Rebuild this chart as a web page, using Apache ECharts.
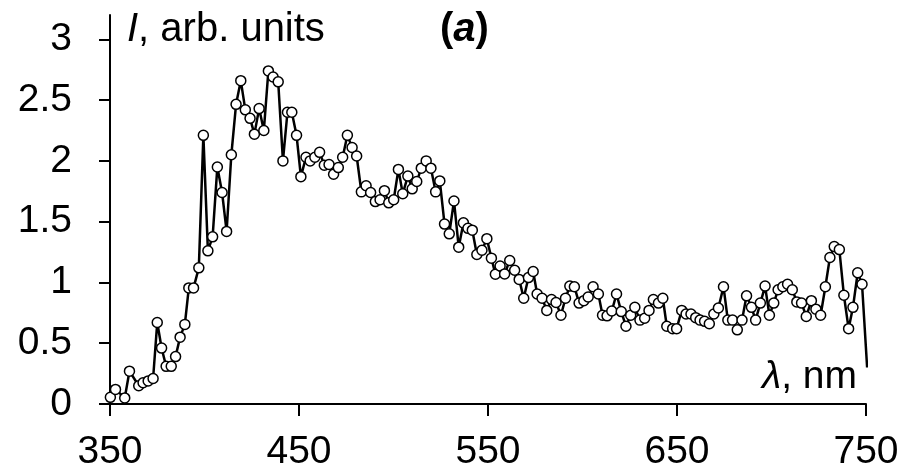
<!DOCTYPE html>
<html>
<head>
<meta charset="utf-8">
<script src="https://cdn.jsdelivr.net/npm/echarts@6/dist/echarts.min.js"></script>
<style>
  html, body { margin: 0; padding: 0; background: #fff; }
  #chart { width: 904px; height: 474px; }
</style>
</head>
<body>
<div id="chart"></div>
<script>
// wavelength, nm
const wavelength = [
  350.2, 352.9, 357.8, 360.3, 365.2, 367.5, 370.2, 372.8, 375.0, 377.3,
  379.7, 382.4, 384.7, 387.1, 389.6, 391.7, 394.2, 397.0, 399.4, 401.8,
  404.3, 406.8, 409.3, 411.7, 414.2, 416.7, 419.2, 421.6, 424.1, 426.4,
  428.9, 431.4, 433.8, 436.3, 439.0, 441.5, 443.9, 446.2, 448.7, 451.0,
  453.7, 455.9, 458.4, 460.9, 463.4, 465.9, 468.3, 470.8, 473.1, 475.6,
  478.1, 480.5, 483.0, 485.5, 487.9, 490.4, 492.9, 495.2, 497.5, 500.1,
  502.6, 504.9, 507.6, 509.9, 512.3, 514.7, 517.3, 519.8, 522.3, 524.5,
  527.0, 529.5, 532.0, 534.5, 537.0, 539.4, 541.7, 544.1, 546.8, 549.4,
  551.8, 553.9, 556.4, 558.8, 561.5, 564.1, 566.5, 568.9, 571.4, 573.9,
  576.0, 578.6, 581.1, 583.6, 586.0, 588.6, 591.0, 593.3, 595.7, 598.2,
  600.7, 603.0, 605.6, 608.4, 610.6, 613.0, 615.5, 618.0, 620.5, 623.0,
  625.5, 627.7, 630.4, 632.9, 635.2, 637.5, 640.2, 642.5, 644.6, 647.7,
  649.8, 652.5, 654.8, 657.4, 659.9, 662.2, 664.6, 667.1, 669.5, 671.9,
  674.6, 676.9, 679.4, 681.9, 684.4, 686.8, 689.4, 691.6, 694.1, 696.6,
  698.9, 701.2, 703.5, 706.0, 708.5, 711.0, 713.4, 715.9, 718.4, 721.1,
  723.5, 726.0, 728.5, 730.9, 733.2, 735.9, 738.3, 740.8, 743.1, 745.6,
  747.9, 750.6
]

// intensity, arb. units
const intensity = [
  0.055, 0.12, 0.05, 0.27, 0.15, 0.175, 0.19, 0.21, 0.67, 0.46,
  0.31, 0.31, 0.39, 0.55, 0.655, 0.955, 0.955, 1.12, 2.21, 1.26,
  1.375, 1.95, 1.74, 1.42, 2.05, 2.465, 2.66, 2.42, 2.35, 2.22,
  2.43, 2.25, 2.74, 2.69, 2.65, 2.0, 2.4, 2.4, 2.21, 1.87,
  2.03, 2.0, 2.03, 2.07, 1.965, 1.97, 1.89, 1.945, 2.03, 2.21,
  2.11, 2.04, 1.745, 1.795, 1.74, 1.665, 1.68, 1.755, 1.655, 1.68,
  1.93, 1.73, 1.875, 1.77, 1.83, 1.94, 2.0, 1.94, 1.745, 1.835,
  1.48, 1.4, 1.67, 1.29, 1.49, 1.445, 1.43, 1.23, 1.265, 1.36,
  1.2, 1.067, 1.135, 1.07, 1.18, 1.1, 1.025, 0.87, 1.04, 1.09,
  0.905, 0.87, 0.77, 0.86, 0.835, 0.73, 0.87, 0.97, 0.965, 0.83,
  0.85, 0.88, 0.965, 0.905, 0.73, 0.725, 0.765, 0.905, 0.76, 0.64,
  0.73, 0.795, 0.69, 0.705, 0.77, 0.86, 0.83, 0.87, 0.64, 0.62,
  0.62, 0.77, 0.74, 0.74, 0.71, 0.69, 0.68, 0.66, 0.74, 0.79,
  0.965, 0.69, 0.69, 0.61, 0.69, 0.89, 0.795, 0.69, 0.83, 0.97,
  0.73, 0.83, 0.94, 0.965, 0.985, 0.94, 0.84, 0.83, 0.72, 0.85,
  0.78, 0.73, 0.965, 1.205, 1.295, 1.27, 0.895, 0.62, 0.795, 1.08,
  0.985, 0.3
]

const xTicks = [350, 450, 550, 650, 750]
const yTicks = [0, 0.5, 1, 1.5, 2, 2.5, 3]

const font = '"Liberation Sans", Arial, Helvetica, sans-serif'

const chart = echarts.init(document.getElementById('chart'))

chart.setOption({
  animation: false,
  grid: {
    left: 110,
    right: 38,
    top: 15,
    bottom: 70,
  },
  xAxis: {
    type: 'value',
    min: 350,
    max: 750,
    axisLine: { lineStyle: { color: '#000', width: 2 } },
    axisTick: {
      customValues: xTicks,
      length: 12,
      lineStyle: { color: '#000', width: 2 },
    },
    axisLabel: {
      customValues: xTicks,
      margin: 29,
      color: '#000',
      fontSize: 39,
      fontFamily: font,
    },
    splitLine: { show: false },
  },
  yAxis: {
    type: 'value',
    min: 0,
    max: 3.2,
    axisLine: { show: true, lineStyle: { color: '#000', width: 2 } },
    axisTick: {
      show: true,
      customValues: yTicks,
      length: 11,
      lineStyle: { color: '#000', width: 2 },
    },
    axisLabel: {
      customValues: yTicks,
      margin: 38,
      color: '#000',
      fontSize: 39,
      fontFamily: font,
    },
    splitLine: { show: false },
  },
  graphic: [
    {
      type: 'text',
      x: 127,
      y: 10,
      style: {
        text: '{i|I}, arb. units',
        fill: '#000',
        font: '40px ' + font,
        rich: {
          i: { fontStyle: 'italic', fontSize: 40, fontFamily: font },
        },
      },
    },
    {
      type: 'text',
      x: 440,
      y: 10,
      style: {
        text: '({a|a})',
        fill: '#000',
        font: 'bold 40px ' + font,
        rich: {
          a: { fontStyle: 'italic', fontWeight: 'bold', fontSize: 40, fontFamily: font },
        },
      },
    },
    {
      type: 'text',
      x: 857,
      y: 358,
      style: {
        text: '{i|λ}, nm',
        fill: '#000',
        align: 'right',
        font: '39px ' + font,
        rich: {
          i: { fontStyle: 'italic', fontSize: 39, fontFamily: font },
        },
      },
    },
  ],
  series: [
    {
      type: 'line',
      data: wavelength.map((w, i) => [w, intensity[i]]),
      clip: true,
      symbol: 'circle',
      symbolSize: 10,
      showSymbol: true,
      itemStyle: {
        color: '#fff',
        borderColor: '#000',
        borderWidth: 1.5,
      },
      lineStyle: { color: '#000', width: 2.5 },
      emphasis: { disabled: true },
    },
  ],
})
</script>
</body>
</html>
